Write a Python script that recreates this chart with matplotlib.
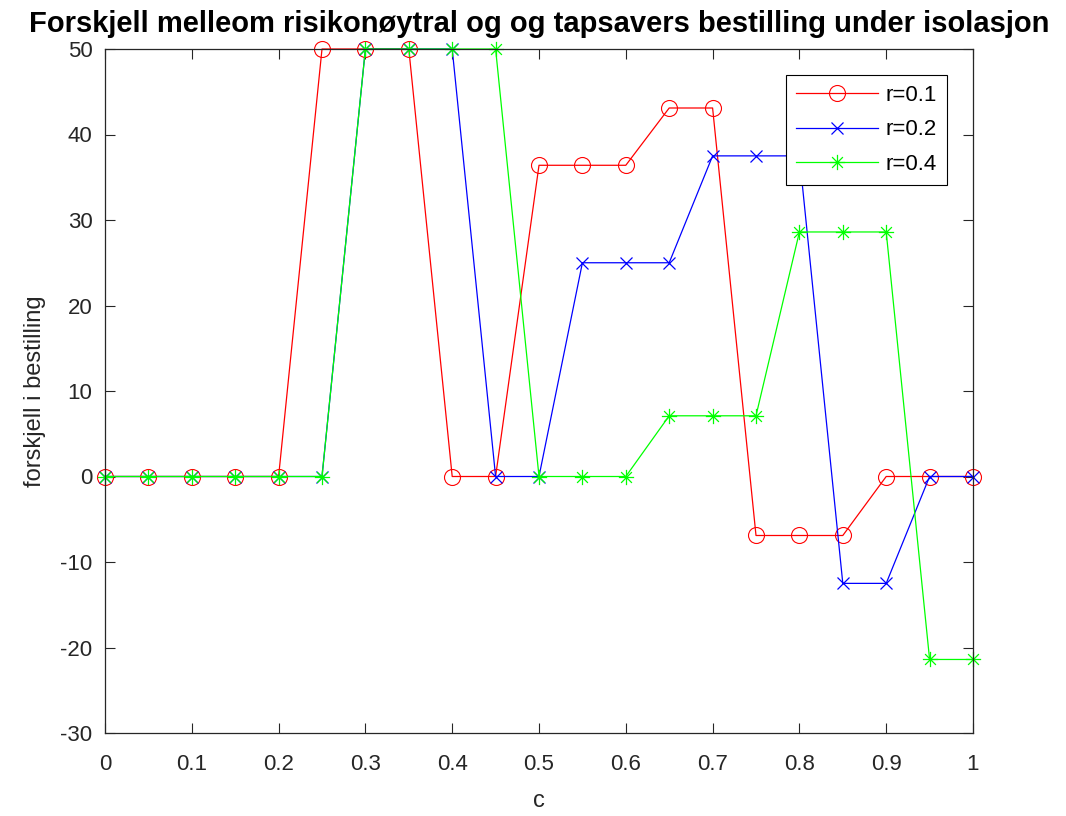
import matplotlib
matplotlib.use("Agg")
import matplotlib.pyplot as plt
from matplotlib.path import Path

c = [0, 0.05, 0.1, 0.15, 0.2, 0.25, 0.3, 0.35, 0.4, 0.45, 0.5,
     0.55, 0.6, 0.65, 0.7, 0.75, 0.8, 0.85, 0.9, 0.95, 1.0]
r01 = [0, 0, 0, 0, 0, 50, 50, 50, 0, 0, 36.4, 36.4, 36.4, 43.1, 43.1,
       -6.9, -6.9, -6.9, 0, 0, 0]
r02 = [0, 0, 0, 0, 0, 0, 50, 50, 50, 0, 0, 25, 25, 25, 37.5, 37.5,
       37.5, -12.5, -12.5, 0, 0]
r04 = [0, 0, 0, 0, 0, 0, 50, 50, 50, 50, 0, 0, 0, 7.1, 7.1, 7.1,
       28.6, 28.6, 28.6, -21.4, -21.4]
labels = ["r=0.1", "r=0.2", "r=0.4"]
xticks = [0, 0.1, 0.2, 0.3, 0.4, 0.5, 0.6, 0.7, 0.8, 0.9, 1.0]
xticklabels = ["0", "0.1", "0.2", "0.3", "0.4", "0.5", "0.6", "0.7", "0.8", "0.9", "1"]
yticks = [-30, -20, -10, 0, 10, 20, 30, 40, 50]

plt.rcParams['font.family'] = ['Liberation Sans', 'DejaVu Sans']

# MATLAB-style asterisk marker (plus + cross)
d = 0.7071
verts = [(-1, 0), (1, 0), (0, -1), (0, 1), (-d, -d), (d, d), (-d, d), (d, -d)]
codes = [Path.MOVETO, Path.LINETO] * 4
asterisk = Path(verts, codes)

fig = plt.figure(figsize=(10.66, 8.16), dpi=100)
ax = fig.add_axes([105 / 1066, 1 - 733 / 816, 868 / 1066, 684 / 816])

ax.plot(c, r01, color=(1, 0, 0), marker='o', markersize=11.5, markerfacecolor='none',
        markeredgewidth=0.8, linewidth=0.9, label=labels[0], clip_on=False)
ax.plot(c, r02, color=(0, 0, 1), marker='x', markersize=8,
        markeredgewidth=0.9, linewidth=0.9, label=labels[1], clip_on=False)
ax.plot(c, r04, color=(0, 1, 0), marker=asterisk, markersize=11,
        markeredgewidth=0.9, linewidth=0.9, label=labels[2], clip_on=False)

ax.set_xlim(0, 1)
ax.set_ylim(-30, 50)
ax.set_xticks(xticks)
ax.set_xticklabels(xticklabels)
ax.set_yticks(yticks)
ax.set_yticklabels([str(v) for v in yticks])
grey = (0.15, 0.15, 0.15)
ax.tick_params(direction='in', top=True, right=True, length=7, width=0.8,
               labelsize=16, colors=grey)
ax.tick_params(axis='x', pad=15)
ax.tick_params(axis='y', pad=9)
for s in ax.spines.values():
    s.set_color(grey)
    s.set_linewidth(0.9)

ax.set_title("Forskjell melleom risikonøytral og og tapsavers bestilling under isolasjon",
             fontsize=21, fontweight='bold', pad=12)
ax.set_xlabel("c", fontsize=17, color=grey, labelpad=11)
ax.set_ylabel("forskjell i bestilling", fontsize=17, color=grey, labelpad=10)

leg = ax.legend(loc='upper right', bbox_to_anchor=((947 - 105) / 868, (733 - 75) / 684),
                fontsize=16, fancybox=False, framealpha=1, edgecolor='black',
                handlelength=3.7, handletextpad=0.35, borderpad=0.45,
                labelspacing=0.6, borderaxespad=0)
leg.get_frame().set_linewidth(0.8)

fig.savefig("out.png", dpi=100)
